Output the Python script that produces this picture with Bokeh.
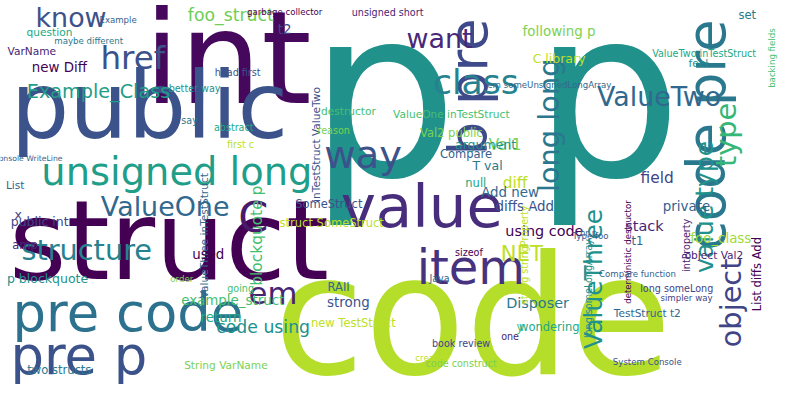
from bokeh.plotting import figure
from bokeh.models import ColumnDataSource, Range1d
from bokeh.embed import file_html
from bokeh.resources import INLINE
from bokeh.core.properties import value
import math

words = ["p p","code","struct","int","public","code pre","pre code","pre p","b pre","value","item","way","C",
 "unsigned long","ValueOne","class","want","know","href","Example_Class","ValueTwo","type","value type","long long",
 "structure","ValueThree","object","NET","em","code using","foo_struct","blockquote p","Val1","diff","diffs Add",
 "Add new","using code","stack","field","private","Disposer","foo_class","return","example_struct","String VarName",
 "new TestStruct","strong","RAII","new Diff","VarName","public int","List","two structs","p blockquote","question","y",
 "following p","C library","inTestStruct ValueTwo","TestStruct t2","List diffs Add","intProperty","book review","Compare",
 "T val","argument","null","ValueOne inTestStruct","Val2 public","struct SomeStruct","SomeStruct","ValueThree inTestStruct",
 "used","object Val2","long someLong","t1","set","feel","ValueTwo inTestStruct","backing fields","code construct","created",
 "System Console","Java","sizeof","amp","x","Console WriteLine","say","better way","abstract","destructor","reason","first c",
 "head first","em someUnsignedLongArray","garbage collector","unsigned short","t2","Example","maybe different","long someLongArray",
 "wondering","going","order","string stringProperty","Type foo","hr p","deterministic destructor","one","simpler way","Compare function"]
xs = [505,482,172,232,152,720,130,80,478,430,480,370,258,180,168,485,448,72,135,100,672,740,718,560,
 88,605,745,532,278,268,235,262,515,525,535,520,555,657,670,700,548,735,225,237,230,
 360,355,345,60,32,40,15,60,48,50,530,570,570,322,660,772,700,470,475,497,495,485,460,460,338,335,208,
 212,728,690,650,762,712,718,787,470,440,660,448,478,25,18,28,193,198,238,355,340,245,242,560,290,395,290,120,90,
 600,560,245,185,535,602,600,640,520,700,650,340]
ys = [98,330,250,60,110,140,325,370,90,215,278,160,225,178,215,85,40,18,60,95,100,140,215,130,
 260,290,315,264,305,340,15,245,150,190,215,200,240,235,185,215,315,248,330,313,380,
 336,315,298,70,53,230,192,385,290,33,340,32,60,150,325,285,255,357,160,172,150,190,118,138,232,212,245,
 265,265,300,250,15,65,55,60,378,372,377,290,262,255,223,165,125,92,132,115,135,150,75,88,12,12,30,20,42,300,
 340,300,290,265,245,242,262,350,310,285]
sizes = [245,172,115,134,96,55,55,55,55,62,50,40,45,40,28,36,28,28,34,20,28,30,26,30,
 30,26,30,22,32,18,18,16,16,16,14,14,15,15,16,14,15,14,14,14,11,
 12,14,12,14,11,13,11,12,13,11,12,14,13,11,11,12,10,10,12,13,13,12,11,12,12,12,11,
 14,11,10,12,12,11,10,9,10,9,9,10,10,12,13,8,10,10,10,11,10,10,10,9,9,10,14,9,9,10,
 12,10,9,10,9,9,9,10,9,9,9,8]
vertical = {"code pre","b pre","type","value type","long long","ValueThree","object","blockquote p",
 "inTestStruct ValueTwo","List diffs Add","intProperty","ValueThree inTestStruct","backing fields",
 "long someLongArray","string stringProperty","deterministic destructor"}
palette = ["#440154","#482475","#414487","#355f8d","#2a788e","#21918c","#22a884","#44bf70","#7ad151","#bddf26","#3b528b","#31688e"]
colors_fixed = {"p p":"#21918c","code":"#b5de2b","struct":"#440154","int":"#46085c","public":"#3b528b","code pre":"#2a788e",
 "pre code":"#2c728e","pre p":"#3b528b","b pre":"#3e4a89","value":"#472d7b","item":"#46327e","way":"#3b528b","C":"#481a6c",
 "unsigned long":"#1f9e89","ValueOne":"#31688e","class":"#26828e","want":"#482878","know":"#3b528b","href":"#3b528b",
 "Example_Class":"#1f9e89","ValueTwo":"#31688e","type":"#35b779","value type":"#21918c","long long":"#2a788e",
 "structure":"#26828e","ValueThree":"#21918c","object":"#414487","NET":"#bddf26","em":"#482475","foo_struct":"#6ece58",
 "foo_class":"#a0da39"}
colors = [colors_fixed.get(w, palette[i % len(palette)]) for i, w in enumerate(words)]

src = ColumnDataSource(dict(x=xs, y=ys, text=words,
    size=[f"{s*0.96:.1f}px" for s in sizes],
    angle=[math.pi/2 if w in vertical else 0 for w in words], color=colors))

p = figure(width=784, height=384, output_backend="svg", toolbar_location=None,
           x_range=Range1d(0, 800), y_range=Range1d(400, 0), min_border=0)
p.axis.visible = False
p.grid.visible = False
p.outline_line_color = None
p.background_fill_color = "white"
p.text(x="x", y="y", text="text", text_font_size="size", angle="angle", text_color="color",
       text_align="center", text_baseline="middle", text_font=value("DejaVu Sans"), source=src)
open("out.html", "w").write(file_html(p, INLINE))
